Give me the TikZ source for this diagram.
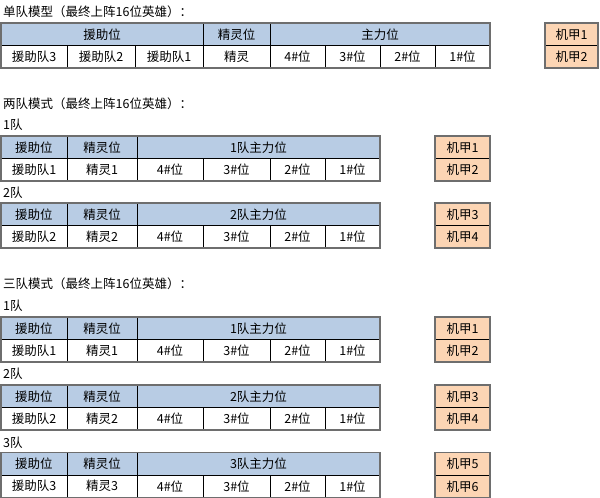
\documentclass[tikz,border=0pt]{standalone}
\usepackage{fontspec}
\setmainfont{Noto Sans CJK SC}
\definecolor{hdrblue}{HTML}{B8CCE4}
\definecolor{mechaorange}{HTML}{FCD5B4}
\definecolor{framegray}{HTML}{6E6E6E}
\tikzset{
  cell/.style={draw=black, line width=0.7pt, inner sep=0pt, outer sep=0pt,
    font=\fontsize{12.5}{14}\selectfont, text=black},
  hdrcell/.style={cell, fill=hdrblue},
  bodycell/.style={cell, fill=white},
  mechacell/.style={cell, fill=mechaorange},
  tabframe/.style={draw=framegray, line width=1.3pt},
  caption/.style={anchor=west, inner sep=0pt, font=\fontsize{12.5}{14}\selectfont}
}
% name, x1, y1, x2, y2, style, text
\newcommand\cellbox[7]{%
  \pgfmathsetmacro\cbw{#4-#2}\pgfmathsetmacro\cbh{#5-#3}%
  \node[#6, minimum width=\cbw pt, minimum height=\cbh pt] (#1) at ({(#2+#4)/2},{(#3+#5)/2}) {#7};}
% prefix, ytop, team number, mecha a, mecha b
\newcommand\teamtab[5]{%
  \pgfmathsetmacro\ta{#2}\pgfmathsetmacro\tb{#2+22.5}\pgfmathsetmacro\tc{#2+45}%
  \cellbox{#1h1}{1}{\ta}{67}{\tb}{hdrcell}{援助位}
  \cellbox{#1h2}{67}{\ta}{137}{\tb}{hdrcell}{精灵位}
  \cellbox{#1h3}{137}{\ta}{380}{\tb}{hdrcell}{#3队主力位}
  \cellbox{#1b1}{1}{\tb}{67}{\tc}{bodycell}{援助队#3}
  \cellbox{#1b2}{67}{\tb}{137}{\tc}{bodycell}{精灵#3}
  \cellbox{#1b3}{137}{\tb}{203}{\tc}{bodycell}{4\#位}
  \cellbox{#1b4}{203}{\tb}{270}{\tc}{bodycell}{3\#位}
  \cellbox{#1b5}{270}{\tb}{325}{\tc}{bodycell}{2\#位}
  \cellbox{#1b6}{325}{\tb}{380}{\tc}{bodycell}{1\#位}
  \draw[tabframe] (#1h1.north west) rectangle (#1b6.south east);
  \cellbox{#1m1}{435}{\ta}{490}{\tb}{mechacell}{机甲#4}
  \cellbox{#1m2}{435}{\tb}{490}{\tc}{mechacell}{机甲#5}
  \draw[tabframe] (#1m1.north west) rectangle (#1m2.south east);
}
\begin{document}
\begin{tikzpicture}[x=1pt, y=-1pt]
\useasboundingbox (0,0) rectangle (600,498);
\fill[white] (0,0) rectangle (600,498);
% single team
\node[caption] (t1) at (3,12) {单队模型（最终上阵16位英雄）：};
\cellbox{sh1}{1}{23}{203}{45.5}{hdrcell}{援助位}
\cellbox{sh2}{203}{23}{270}{45.5}{hdrcell}{精灵位}
\cellbox{sh3}{270}{23}{490}{45.5}{hdrcell}{主力位}
\cellbox{sb1}{1}{45.5}{67}{68}{bodycell}{援助队3}
\cellbox{sb2}{67}{45.5}{135}{68}{bodycell}{援助队2}
\cellbox{sb3}{135}{45.5}{203}{68}{bodycell}{援助队1}
\cellbox{sb4}{203}{45.5}{270}{68}{bodycell}{精灵}
\cellbox{sb5}{270}{45.5}{325}{68}{bodycell}{4\#位}
\cellbox{sb6}{325}{45.5}{380}{68}{bodycell}{3\#位}
\cellbox{sb7}{380}{45.5}{435}{68}{bodycell}{2\#位}
\cellbox{sb8}{435}{45.5}{490}{68}{bodycell}{1\#位}
\draw[tabframe] (sh1.north west) rectangle (sb8.south east);
\cellbox{sm1}{545}{23}{598}{45.5}{mechacell}{机甲1}
\cellbox{sm2}{545}{45.5}{598}{68}{mechacell}{机甲2}
\draw[tabframe] (sm1.north west) rectangle (sm2.south east);
% two teams
\node[caption] (t2) at (3,104) {两队模式（最终上阵16位英雄）：};
\node[caption] (l21) at (3,125) {1队};
\teamtab{da}{136}{1}{1}{2}
\node[caption] (l22) at (3,193) {2队};
\teamtab{db}{203}{2}{3}{4}
% three teams
\node[caption] (t3) at (3,284) {三队模式（最终上阵16位英雄）：};
\node[caption] (l31) at (3,306) {1队};
\teamtab{ta}{317}{1}{1}{2}
\node[caption] (l32) at (3,374) {2队};
\teamtab{tb}{385}{2}{3}{4}
\node[caption] (l33) at (3,443) {3队};
\teamtab{tc}{452.5}{3}{5}{6}
\end{tikzpicture}
\end{document}
